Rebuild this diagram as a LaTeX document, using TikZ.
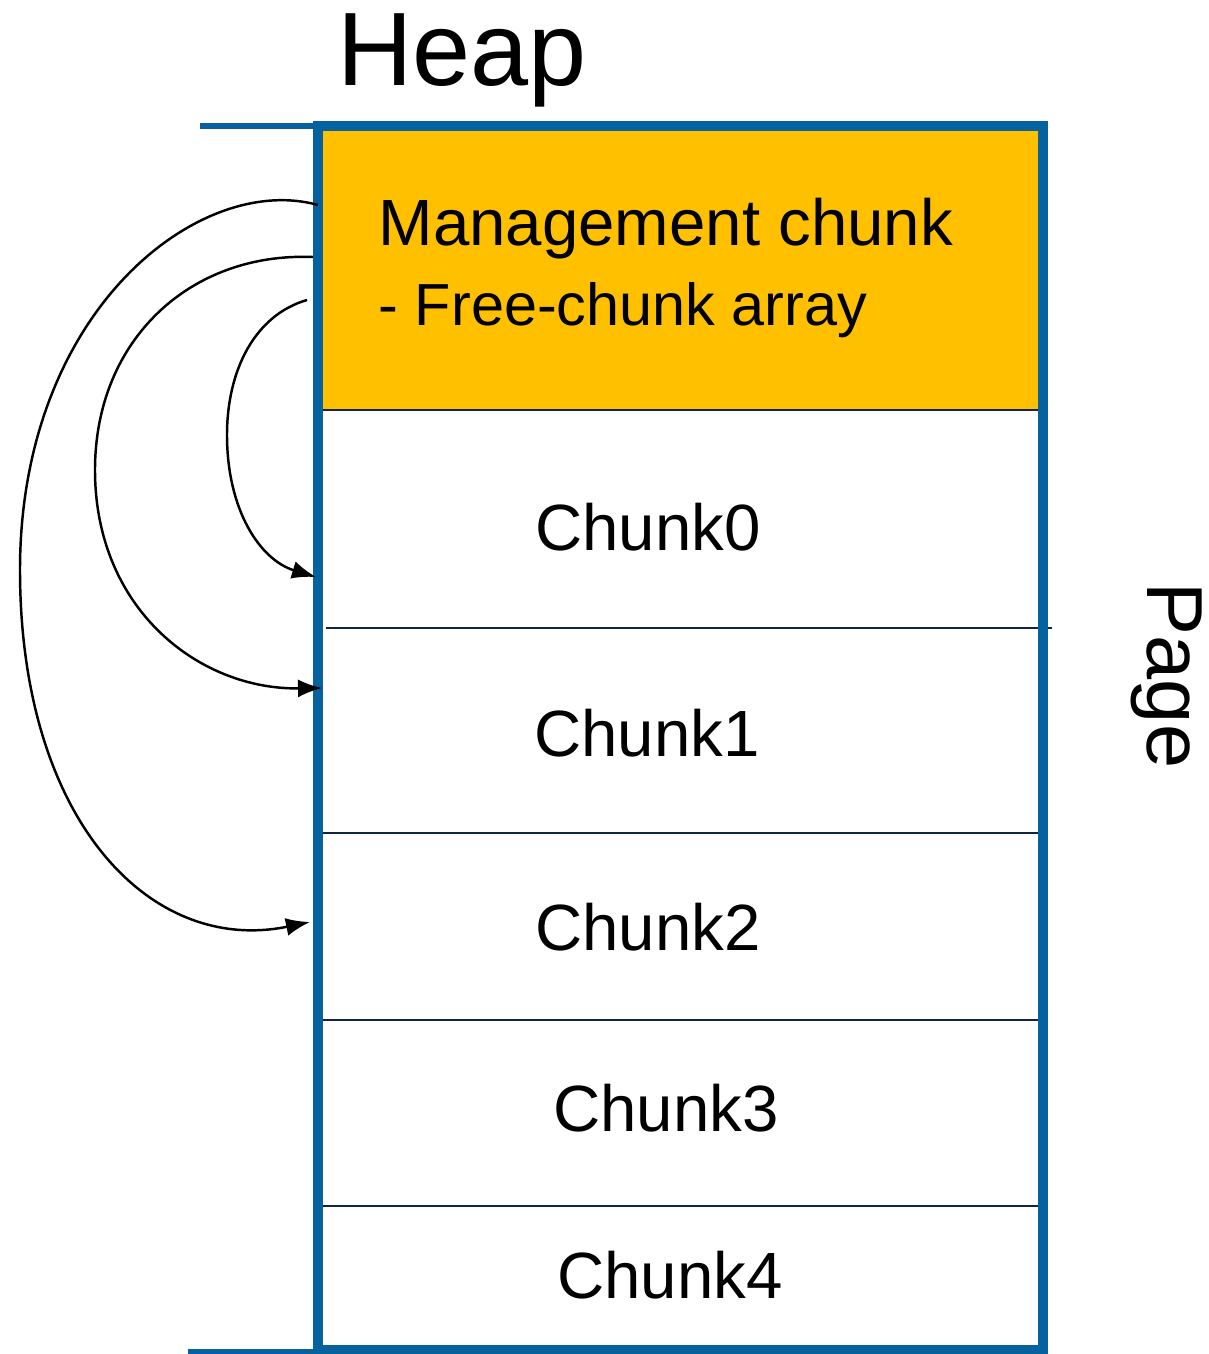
\documentclass[tikz,border=0pt]{standalone}
\usepackage{fontspec}
\setmainfont{Liberation Sans}
\usetikzlibrary{arrows.meta}
\definecolor{heapblue}{RGB}{6,98,158}
\definecolor{mgmtorange}{RGB}{255,192,0}
\definecolor{rulenavy}{RGB}{16,36,70}
\tikzset{
	chunklabel/.style={font=\fontsize{18.6}{22}\selectfont},
	divider/.style={rulenavy,line width=0.6},
	freeptr/.style={black,line width=0.7,arrows=-{Latex[length=2.4mm,width=1.8mm]}},
}
\begin{document}
\begin{tikzpicture}
	\useasboundingbox (0,0) rectangle (12.08,-13.54);
	% Management chunk fill
	\fill [mgmtorange] (3.22,-1.30) rectangle (10.38,-4.10);
	% Chunk dividers
	\draw [divider] (3.20,-4.10) -- (10.43,-4.10);
	\draw [divider] (3.26,-6.28) -- (10.52,-6.28);
	\draw [divider] (3.13,-8.33) -- (10.40,-8.33);
	\draw [divider] (3.13,-10.20) -- (10.40,-10.20);
	\draw [divider] (3.13,-12.06) -- (10.40,-12.06);
	% Page outline
	\draw [heapblue,line width=2.8] (3.18,-1.26) rectangle (10.43,-13.50);
		\draw [heapblue,line width=1.6] (2.00,-1.26) -- (3.18,-1.26);
		\draw [heapblue,line width=1.6] (1.88,-13.52) -- (3.18,-13.52);
	% Labels
	\node (heap) [font=\fontsize{29.7}{34}\selectfont] at (4.62,-0.60) {Heap};
	\node (page) [rotate=-90,anchor=base,inner sep=0,font=\fontsize{22.6}{26}\selectfont] at (11.47,-6.755) {Page};
	\node (mgmt) [chunklabel,anchor=base west,inner sep=0] at (3.78,-2.45) {Management chunk};
		\node (freearr) [font=\fontsize{16.9}{20}\selectfont,anchor=base west,inner sep=0] at (3.78,-3.25) {- Free-chunk array};
	\node (chunk0) [chunklabel] at (6.48,-5.27) {Chunk0};
	\node (chunk1) [chunklabel] at (6.47,-7.33) {Chunk1};
	\node (chunk2) [chunklabel] at (6.48,-9.27) {Chunk2};
	\node (chunk3) [chunklabel] at (6.66,-11.08) {Chunk3};
	\node (chunk4) [chunklabel] at (6.70,-12.75) {Chunk4};
	% Free-chunk pointers
	\coordinate (src2) at (3.18,-2.05);
	\coordinate (src1) at (3.13,-2.57);
	\coordinate (src0) at (3.07,-3.00);
	\coordinate (dst2) at (3.10,-9.22);
	\coordinate (dst1) at (3.22,-6.88);
	\coordinate (dst0) at (3.16,-5.77);
		\draw [freeptr] (src2) .. controls (2.00,-1.72) and (0.20,-3.10) .. (0.20,-5.70)
			.. controls (0.20,-8.20) and (1.50,-9.55) .. (dst2);
		\draw [freeptr] (src1) .. controls (1.90,-2.52) and (0.95,-3.40) .. (0.95,-4.70)
			.. controls (0.95,-6.10) and (2.00,-6.90) .. (dst1);
		\draw [freeptr] (src0) .. controls (2.55,-3.15) and (2.27,-3.70) .. (2.27,-4.35)
			.. controls (2.27,-5.10) and (2.60,-5.60) .. (dst0);
\end{tikzpicture}
\end{document}
